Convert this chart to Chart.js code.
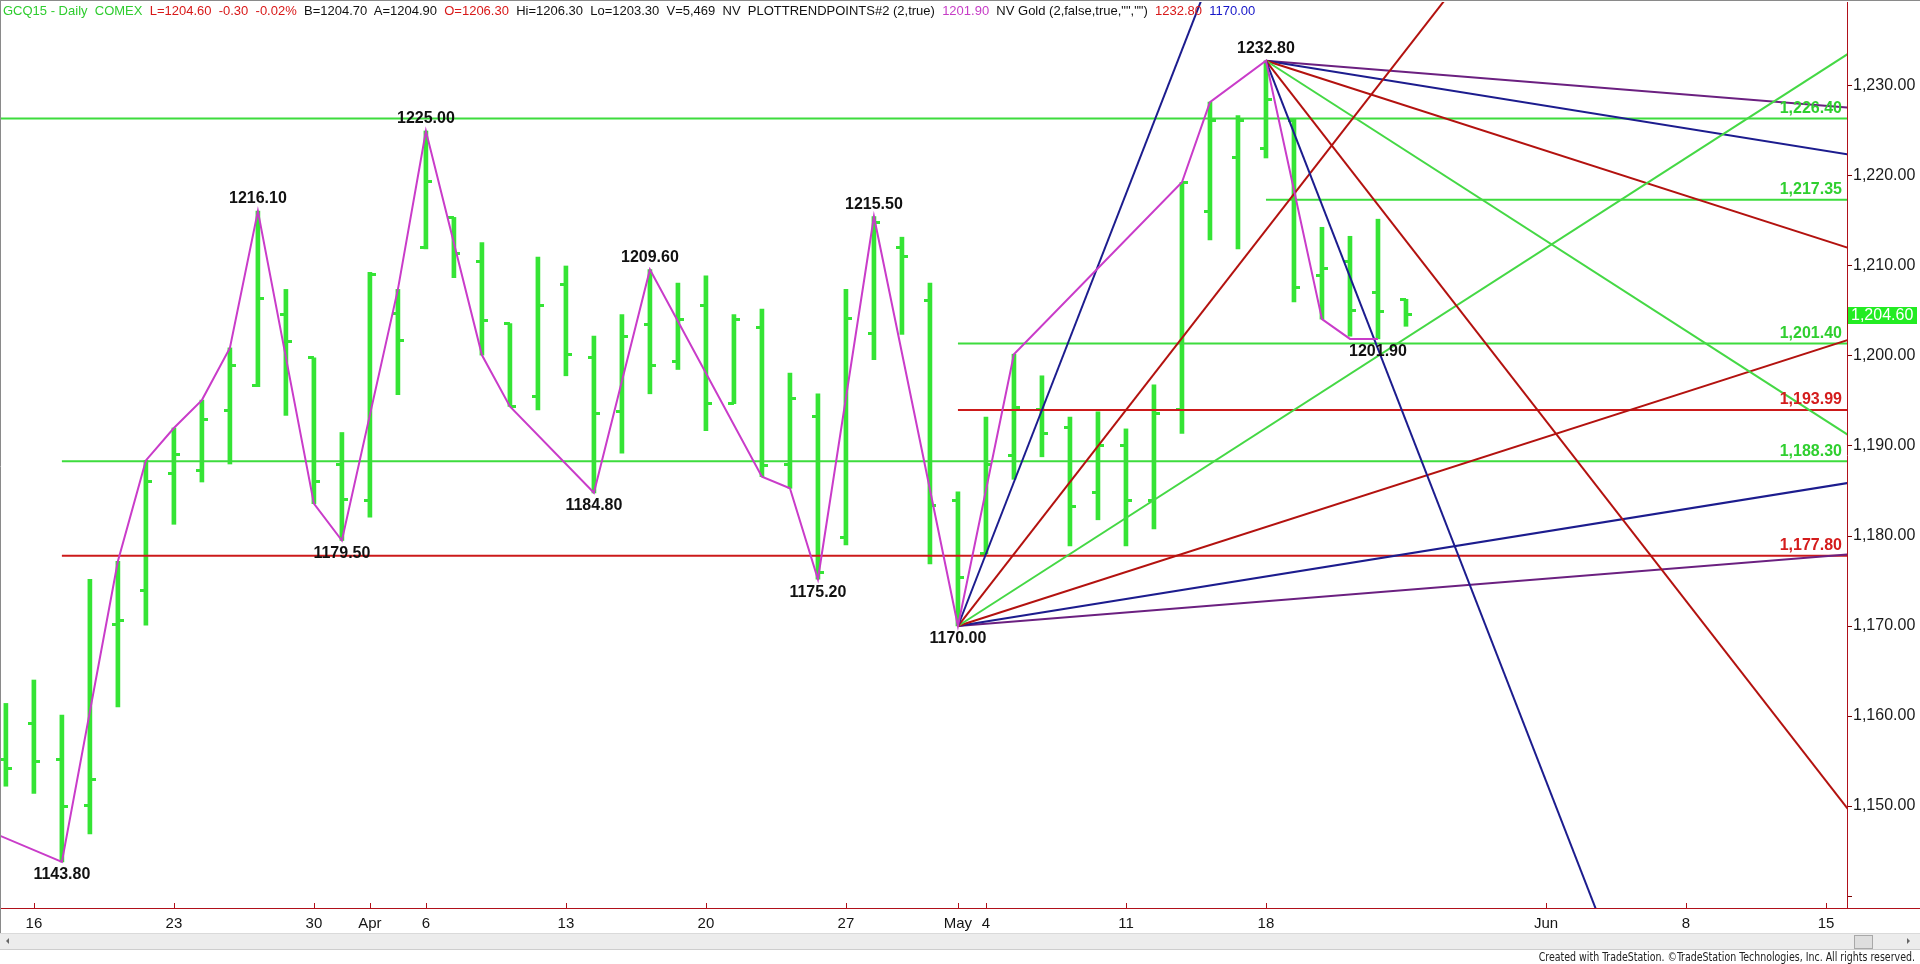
<!DOCTYPE html>
<html>
<head>
<meta charset="utf-8">
<script src="https://cdn.jsdelivr.net/npm/chart.js@4.4.1/dist/chart.umd.min.js"></script>
<style>
  html, body { margin: 0; padding: 0; background: #fff; }
  #wrap { position: relative; width: 1920px; height: 964px; overflow: hidden; }
  #chart { position: absolute; left: 0; top: 0; }
  #hdr { position: absolute; left: 3px; top: 3px; font: 13px "Liberation Sans", Arial, sans-serif; white-space: pre; color: #111; }
  #hdr .g { color: #2fcc2f; }
  #hdr .r { color: #d81818; }
  #hdr .m { color: #c63cc6; }
  #hdr .b { color: #1515c8; }
  #scroll { position: absolute; left: 0; top: 933px; width: 1920px; height: 15px; background: #ececec; border-top: 1px solid #dadada; border-bottom: 1px solid #cdcdcd; }
  #thumb { position: absolute; left: 1854px; top: 1px; width: 17px; height: 12px; background: #dedede; border: 1px solid #a8a8a8; }
  .arr { position: absolute; top: 4px; width: 0; height: 0; border-top: 3px solid transparent; border-bottom: 3px solid transparent; }
  #arrL { left: 6px; border-right: 3px solid #666; }
  #arrR { left: 1907px; border-left: 3px solid #666; }
  #foot { position: absolute; right: 5px; top: 950px; font: 12px "Liberation Sans Narrow", "DejaVu Sans Condensed", Arial, sans-serif; color: #222; white-space: pre; transform: scaleX(0.875); transform-origin: right top; }
</style>
</head>
<body>
<div id="wrap">
  <canvas id="chart" width="1920" height="964"></canvas>
  <div id="hdr"><span class="g">GCQ15 - Daily  COMEX</span>  <span class="r">L=1204.60  -0.30  -0.02%</span>  B=1204.70  A=1204.90  <span class="r">O=1206.30</span>  Hi=1206.30  Lo=1203.30  V=5,469  NV  PLOTTRENDPOINTS#2 (2,true)  <span class="m">1201.90</span>  NV Gold (2,false,true,"","")  <span class="r">1232.80</span>  <span class="b">1170.00</span></div>
  <div id="scroll"><div class="arr" id="arrL"></div><div id="thumb"></div><div class="arr" id="arrR"></div></div>
  <div id="foot">Created with TradeStation. ©TradeStation Technologies, Inc. All rights reserved.</div>
</div>
<script>
// ---- daily bars (x = trading-day index, 0 = Mar 16) ----
const barIdx = [-1,0,1,2,3,4,5,6,7,8,9,10,11,12,13,14,15,16,17,18,19,20,21,22,23,24,
  25,26,27,28,29,30,31,32,33,34,35,36,37,38,39,40,41,42,43,44,45,46,47,48,49];
const opens  = [1155.2,1159.2,1155.2,1150.1,1170.2,1174.0,1186.9,1187.3,1193.9,1196.7,1204.6,1199.8,1188.0,1184.0,1204.7,1212.0,1215.4,1210.5,1203.6,1195.5,1207.9,1199.8,1193.8,1203.5,1199.4,1205.6,
  1194.7,1203.2,1188.0,1193.3,1179.8,1202.5,1212.1,1206.2,1183.9,1178.1,1188.9,1194.1,1192.1,1184.8,1190.0,1184.0,1194.0,1216.1,1222.0,1223.1,1226.2,1208.9,1210.5,1207.0,1206.3];
const highs  = [1161.4,1164.0,1160.1,1175.2,1177.2,1188.4,1192.0,1195.1,1200.9,1216.1,1207.4,1199.8,1191.5,1209.3,1207.4,1225.0,1215.4,1212.6,1203.6,1211.0,1210.0,1202.2,1204.6,1209.6,1208.1,1208.9,
  1204.6,1205.2,1198.1,1195.8,1207.4,1215.5,1213.2,1208.1,1184.9,1193.2,1200.2,1197.8,1193.2,1193.8,1191.9,1196.8,1219.3,1228.2,1226.7,1232.8,1226.3,1214.3,1213.3,1215.2,1206.3];
const lows   = [1152.2,1151.4,1143.8,1146.9,1161.0,1170.1,1181.3,1186.0,1188.0,1196.6,1193.4,1183.6,1179.5,1182.1,1195.7,1211.9,1208.7,1200.1,1194.4,1194.0,1197.8,1184.8,1189.2,1195.8,1198.5,1191.7,
  1194.7,1186.6,1185.3,1175.2,1179.0,1199.6,1202.4,1176.9,1170.0,1178.0,1186.3,1188.8,1178.9,1181.8,1178.9,1180.8,1191.4,1212.9,1211.9,1222.0,1206.0,1204.1,1202.2,1201.9,1203.3];
const closes = [1154.2,1154.9,1149.9,1152.9,1170.6,1186.1,1189.1,1192.9,1198.9,1206.4,1201.6,1186.1,1184.1,1209.1,1201.7,1219.4,1211.4,1203.9,1194.4,1205.6,1200.2,1193.6,1202.2,1198.9,1204.1,1194.7,
  1204.1,1187.8,1195.3,1175.9,1204.2,1214.8,1211.0,1183.4,1175.4,1188.0,1194.3,1191.4,1183.3,1190.0,1183.9,1193.6,1219.3,1226.2,1226.2,1228.5,1207.6,1209.7,1205.1,1204.9,1204.6];

// ---- trend-point zigzag ----
const zzIdx = [-1.25,1,3,4,5,6,7,8,10,11,13,14,16,17,20,22,26,27,28,30,33,35,41,42,44,46,47,48];
const zzVal = [1146.75,1143.8,1177.2,1188.4,1192.0,1195.1,1200.9,1216.1,1183.6,1179.5,1207.4,1225.0,1200.1,1194.4,1184.8,1209.6,
  1186.6,1185.3,1175.2,1215.5,1170.0,1200.2,1219.3,1228.2,1232.8,1204.1,1201.9,1201.9];

// ---- pivot labels ----
const pivIdx  = [1,8,11,14,20,22,28,30,33,44,48];
const pivVal  = [1143.80,1216.10,1179.50,1225.00,1184.80,1209.60,1175.20,1215.50,1170.00,1232.80,1201.90];
const pivSide = ['b','a','b','a','b','a','b','a','b','a','b'];

// ---- horizontal levels ----
const levelVals  = [1226.40,1217.35,1201.40,1193.99,1188.30,1177.80];
const levelStart = [-1.25,44,33,33,1,1];
const levelKind  = ['g','g','g','r','g','r'];

// ---- gann fans ----
const fanSlopes = [8,4,2,1,0.5,0.25];
const fanKind   = ['blue','red','green','red','blue','purple'];
const fanLow  = { i: 33, v: 1170.0 };
const fanHigh = { i: 44, v: 1232.8 };

// ---- axes ----
const xTickIdx  = [0,5,10,12,14,19,24,29,33,34,39,44,54,59,64];
const xTickText = ['16','23','30','Apr','6','13','20','27','May','4','11','18','Jun','8','15'];
const yTicks    = [1140,1150,1160,1170,1180,1190,1200,1210,1220,1230];
const xMin = -1.21, xMax = 64.75, yMin = 1138.67, yMax = 1239.33;

const BAR_GREEN = '#35e435';
const COLORS = { blue: '#1c1c8e', red: '#b3120f', green: '#45d845', purple: '#6b2080' };
const LVL = { g: '#3ddc3d', r: '#cc1a1a' };
const LVL_TXT = { g: '#2fcf2f', r: '#d41c1c' };
const AXIS_RED = '#b0101a';

const fmt = v => v.toLocaleString('en-US', { minimumFractionDigits: 2, maximumFractionDigits: 2 });

function tickImg(left) {
  const c = document.createElement('canvas');
  c.width = 12; c.height = 3;
  const g = c.getContext('2d');
  g.fillStyle = BAR_GREEN;
  g.fillRect(left ? 0 : 6, 0, 6, 3);
  return c;
}

const datasets = [];

// high-low range
datasets.push({
  type: 'bar',
  data: barIdx.map((x, k) => ({ x, y: [lows[k], highs[k]] })),
  backgroundColor: BAR_GREEN, borderWidth: 0, barThickness: 4, grouped: false, order: 10
});
// open / close ticks
datasets.push({
  type: 'line', showLine: false, order: 9,
  data: barIdx.map((x, k) => ({ x, y: opens[k] })),
  pointStyle: tickImg(true), pointRadius: 3
});
datasets.push({
  type: 'line', showLine: false, order: 9,
  data: barIdx.map((x, k) => ({ x, y: closes[k] })),
  pointStyle: tickImg(false), pointRadius: 3
});
// levels
levelVals.forEach((v, k) => {
  datasets.push({
    type: 'line', order: 6,
    data: [{ x: levelStart[k], y: v }, { x: xMax + 1, y: v }],
    borderColor: LVL[levelKind[k]], borderWidth: 2, pointRadius: 0
  });
});
// fans from the low (rising) and from the high (falling)
const fanEnd = 66;
fanSlopes.forEach((s, k) => {
  datasets.push({
    type: 'line', order: 5,
    data: [{ x: fanLow.i, y: fanLow.v }, { x: fanEnd, y: fanLow.v + s * (fanEnd - fanLow.i) }],
    borderColor: COLORS[fanKind[k]], borderWidth: 2, pointRadius: 0
  });
  datasets.push({
    type: 'line', order: 5,
    data: [{ x: fanHigh.i, y: fanHigh.v }, { x: fanEnd, y: fanHigh.v - s * (fanEnd - fanHigh.i) }],
    borderColor: COLORS[fanKind[k]], borderWidth: 2, pointRadius: 0
  });
});
// zigzag
datasets.push({
  type: 'line', order: 1,
  data: zzIdx.map((x, k) => ({ x, y: zzVal[k] })),
  borderColor: '#c93cc9', borderWidth: 2, pointRadius: 0, tension: 0
});

const decor = {
  id: 'decor',
  beforeDraw(chart) {
    const c = chart.ctx;
    c.save(); c.fillStyle = '#fff'; c.fillRect(0, 0, chart.width, chart.height); c.restore();
  },
  afterDatasetsDraw(chart) {
    const c = chart.ctx, xs = chart.scales.x, ys = chart.scales.y, a = chart.chartArea;
    c.save();
    c.font = 'bold 16px "Liberation Sans", Arial, sans-serif';
    c.textBaseline = 'middle';
    // level labels
    c.textAlign = 'right';
    levelVals.forEach((v, k) => {
      c.fillStyle = LVL_TXT[levelKind[k]];
      c.fillText(fmt(v), a.right - 5, ys.getPixelForValue(v) - 10);
    });
    // pivot labels
    c.textAlign = 'center';
    c.fillStyle = '#111';
    pivIdx.forEach((i, k) => {
      const y = ys.getPixelForValue(pivVal[k]);
      c.fillText(pivVal[k].toFixed(2), xs.getPixelForValue(i), pivSide[k] === 'a' ? y - 12 : y + 13);
    });
    // last price box
    const last = closes[closes.length - 1];
    const py = ys.getPixelForValue(last);
    c.fillStyle = '#22ec22';
    c.fillRect(a.right + 1, Math.round(py) - 8, 69, 17);
    c.fillStyle = '#fff';
    c.font = '16px "Liberation Sans", Arial, sans-serif';
    c.textAlign = 'left';
    c.fillText(fmt(last), a.right + 4, py + 1);
    c.restore();
  },
  afterDraw(chart) {
    const c = chart.ctx, xs = chart.scales.x, a = chart.chartArea;
    c.save();
    c.strokeStyle = AXIS_RED; c.lineWidth = 1;
    c.beginPath();
    c.moveTo(0, a.bottom + 0.5); c.lineTo(chart.width, a.bottom + 0.5);
    xTickIdx.forEach(i => {
      const x = Math.round(xs.getPixelForValue(i)) + 0.5;
      c.moveTo(x, a.bottom - 5); c.lineTo(x, a.bottom);
    });
    c.stroke();
    c.strokeStyle = '#8a8a8a';
    c.beginPath(); c.moveTo(0.5, 0); c.lineTo(0.5, 933); c.moveTo(0, 0.5); c.lineTo(chart.width, 0.5); c.stroke();
    c.restore();
  }
};

Chart.defaults.font.family = '"Liberation Sans", Arial, sans-serif';

new Chart(document.getElementById('chart'), {
  type: 'bar',
  data: { datasets },
  plugins: [decor],
  options: {
    responsive: false,
    animation: false,
    devicePixelRatio: 1,
    events: [],
    layout: { padding: { top: 2, left: 0, right: 0, bottom: 0 }, autoPadding: false },
    plugins: { legend: { display: false }, tooltip: { enabled: false } },
    scales: {
      x: {
        type: 'linear', min: xMin, max: xMax, offset: false, bounds: 'data',
        grid: { display: false, offset: false, drawTicks: false },
        border: { display: true, color: AXIS_RED },
        afterBuildTicks: s => { s.ticks = xTickIdx.map(v => ({ value: v })); },
        afterFit: s => { s.height = 56; s.paddingLeft = 0; s.paddingRight = 0; },
        ticks: {
          autoSkip: false, maxRotation: 0, minRotation: 0, padding: 7,
          color: '#151515', font: { size: 15 },
          callback: (v, k) => xTickText[k]
        }
      },
      y: {
        type: 'linear', position: 'right', min: yMin, max: yMax, beginAtZero: false, bounds: 'data',
        grid: { drawOnChartArea: false, drawTicks: true, tickLength: 5, color: '#7a0000' },
        border: { display: true, color: AXIS_RED },
        afterBuildTicks: s => { s.ticks = yTicks.map(v => ({ value: v })); },
        afterFit: s => { s.width = 73; s.paddingTop = 0; s.paddingBottom = 0; },
        ticks: {
          autoSkip: false, padding: 1, color: '#1a1a1a', font: { size: 16 },
          callback: v => (v === 1140 ? '' : fmt(v))
        }
      }
    }
  }
});
</script>
</body>
</html>
